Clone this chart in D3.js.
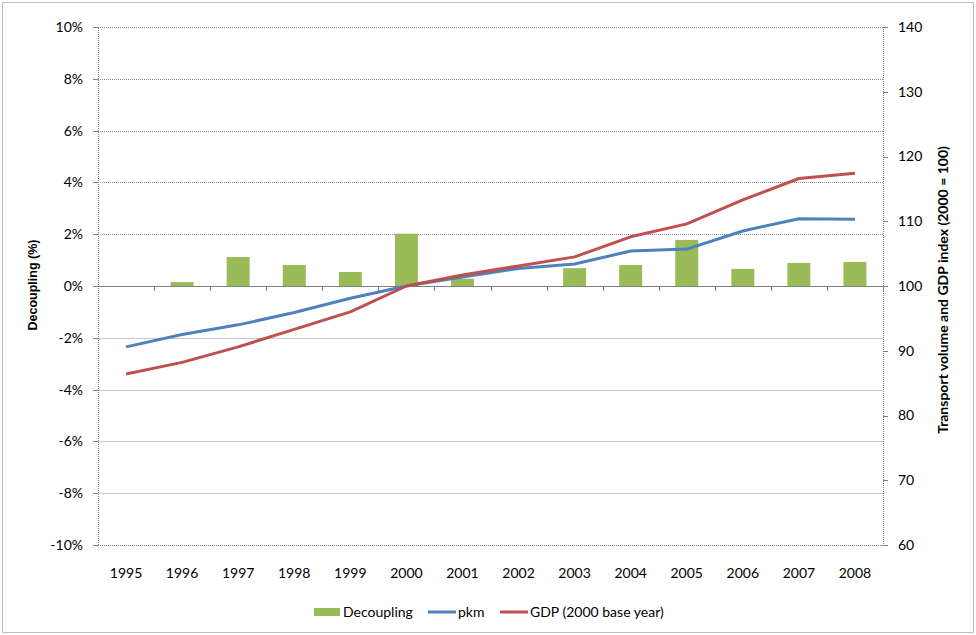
<!DOCTYPE html>
<meta charset="utf-8">
<style>
body { margin: 0; background: #fff; }
text { font-family: Lato, "Open Sans", sans-serif; fill: #000; }
.axis path, .axis line { stroke: #808080; shape-rendering: crispEdges; }
.axis .domain { stroke-dasharray: 1,1; }
</style>
<body>
<div id="chart"></div>
<script src="https://cdn.jsdelivr.net/npm/d3@7/dist/d3.min.js"></script>
<script>
var years = ["1995","1996","1997","1998","1999","2000","2001","2002","2003","2004","2005","2006","2007","2008"];
var decoupling = [0, 0.15, 1.12, 0.81, 0.54, 2.02, 0.28, 0, 0.69, 0.81, 1.78, 0.66, 0.89, 0.93];
var pkm = [90.6, 92.5, 94.0, 95.9, 98.1, 100, 101.4, 102.7, 103.4, 105.4, 105.7, 108.5, 110.4, 110.3];
var gdp = [86.4, 88.2, 90.6, 93.3, 96.0, 100, 101.7, 103.1, 104.5, 107.6, 109.6, 113.3, 116.6, 117.4];
var leftTicks = [-10, -8, -6, -4, -2, 0, 2, 4, 6, 8, 10];
var rightTicks = [60, 70, 80, 90, 100, 110, 120, 130, 140];

var W = 976, H = 635;
var margin = {top: 27, right: 93, bottom: 90, left: 98},
    width = W - margin.left - margin.right,
    height = H - margin.top - margin.bottom;

var svg = d3.select("#chart").append("svg")
    .attr("width", W)
    .attr("height", H);

// outer frame
svg.append("rect")
    .attr("x", 2.5).attr("y", 2.5)
    .attr("width", W - 5).attr("height", H - 5)
    .attr("fill", "none")
    .attr("stroke", "#808080")
    .attr("stroke-dasharray", "1,1");

var g = svg.append("g")
    .attr("transform", "translate(" + margin.left + "," + margin.top + ")");

var x = d3.scaleBand().domain(years).range([0, width]).paddingInner(0.59).paddingOuter(0.295);
var y = d3.scaleLinear().domain([-10, 10]).range([height, 0]);
var y2 = d3.scaleLinear().domain([60, 140]).range([height, 0]);

// gridlines
g.selectAll(".grid")
    .data(leftTicks.filter(function(d) { return d != 0 && d != -10; }))
  .enter().append("line")
    .attr("x1", 0).attr("x2", width)
    .attr("y1", function(d) { return Math.round(y(d)) + 0.5; })
    .attr("y2", function(d) { return Math.round(y(d)) + 0.5; })
    .attr("stroke", function(d) { return d > 0 ? "#8c8c8c" : "#c8c8c8"; })
    .attr("stroke-dasharray", function(d) { return d > 0 ? "1,1" : null; });

// bottom frame of plot
g.append("line")
    .attr("x1", 0).attr("x2", width)
    .attr("y1", height + 0.5).attr("y2", height + 0.5)
    .attr("stroke", "#808080")
    .attr("stroke-dasharray", "1,1");

// bars
g.selectAll(".bar")
    .data(decoupling)
  .enter().append("rect")
    .attr("x", function(d, i) { return x(years[i]); })
    .attr("width", x.bandwidth())
    .attr("y", function(d) { return y(Math.max(0, d)); })
    .attr("height", function(d) { return Math.abs(y(d) - y(0)); })
    .attr("fill", "#9bbb59");

// left axis
g.append("g")
    .attr("class", "axis")
    .call(d3.axisLeft(y).tickValues(leftTicks).tickSize(5).tickPadding(10)
      .tickFormat(function(d) { return d + "%"; }))
    .selectAll("text").style("font-size", "14px");

// right axis
g.append("g")
    .attr("class", "axis")
    .attr("transform", "translate(" + width + ",0)")
    .call(d3.axisRight(y2).tickValues(rightTicks).tickSize(5).tickPadding(10))
    .selectAll("text").style("font-size", "14px");

// x axis on the zero line, ticks between categories
var xa = g.append("g")
    .attr("class", "axis")
    .attr("transform", "translate(0," + y(0) + ")");
xa.append("line")
    .attr("x1", 0).attr("x2", width)
    .attr("y1", 0.5).attr("y2", 0.5)
    .attr("stroke", "#808080");
var step = x.step();
xa.selectAll(".tk")
    .data(d3.range(1, years.length + 1))
  .enter().append("line")
    .attr("x1", function(i) { return Math.round(i * step) + 0.5; })
    .attr("x2", function(i) { return Math.round(i * step) + 0.5; })
    .attr("y1", 0).attr("y2", 5)
    .attr("stroke", "#808080");

// year labels at bottom
g.selectAll(".yl")
    .data(years)
  .enter().append("text")
    .attr("x", function(d) { return x(d) + x.bandwidth() / 2; })
    .attr("y", height + 33)
    .attr("text-anchor", "middle")
    .style("font-size", "14px")
    .text(function(d) { return d; });

// lines
var line = d3.line()
    .x(function(d, i) { return x(years[i]) + x.bandwidth() / 2; })
    .y(function(d) { return y2(d); });

g.append("path")
    .attr("d", line(pkm))
    .attr("fill", "none")
    .attr("stroke", "#4f81bd")
    .attr("stroke-width", 3)
    .attr("stroke-linejoin", "round");

g.append("path")
    .attr("d", line(gdp))
    .attr("fill", "none")
    .attr("stroke", "#c0504d")
    .attr("stroke-width", 3)
    .attr("stroke-linejoin", "round");

// axis titles
svg.append("text")
    .attr("transform", "translate(37,285) rotate(-90)")
    .attr("text-anchor", "middle")
    .style("font-family", "'Liberation Sans', Arial, sans-serif")
    .style("font-weight", "bold")
    .style("font-size", "12.5px")
    .text("Decoupling (%)");

svg.append("text")
    .attr("transform", "translate(948,290) rotate(-90)")
    .attr("text-anchor", "middle")
    .style("font-weight", "bold")
    .style("font-size", "14px")
    .text("Transport volume and GDP index  (2000 = 100)");

// legend
var leg = svg.append("g").attr("transform", "translate(314,612)");
leg.append("rect").attr("x", 0).attr("y", -4).attr("width", 26).attr("height", 8).attr("fill", "#9bbb59");
leg.append("text").attr("x", 29).attr("y", 5).style("font-size", "14px").text("Decoupling");
leg.append("line").attr("x1", 114).attr("x2", 142).attr("y1", 0).attr("y2", 0)
    .attr("stroke", "#4f81bd").attr("stroke-width", 3);
leg.append("text").attr("x", 144).attr("y", 5).style("font-size", "14px").text("pkm");
leg.append("line").attr("x1", 186).attr("x2", 214).attr("y1", 0).attr("y2", 0)
    .attr("stroke", "#c0504d").attr("stroke-width", 3);
leg.append("text").attr("x", 216).attr("y", 5).style("font-size", "14px").text("GDP (2000 base year)");
</script>
</body>
